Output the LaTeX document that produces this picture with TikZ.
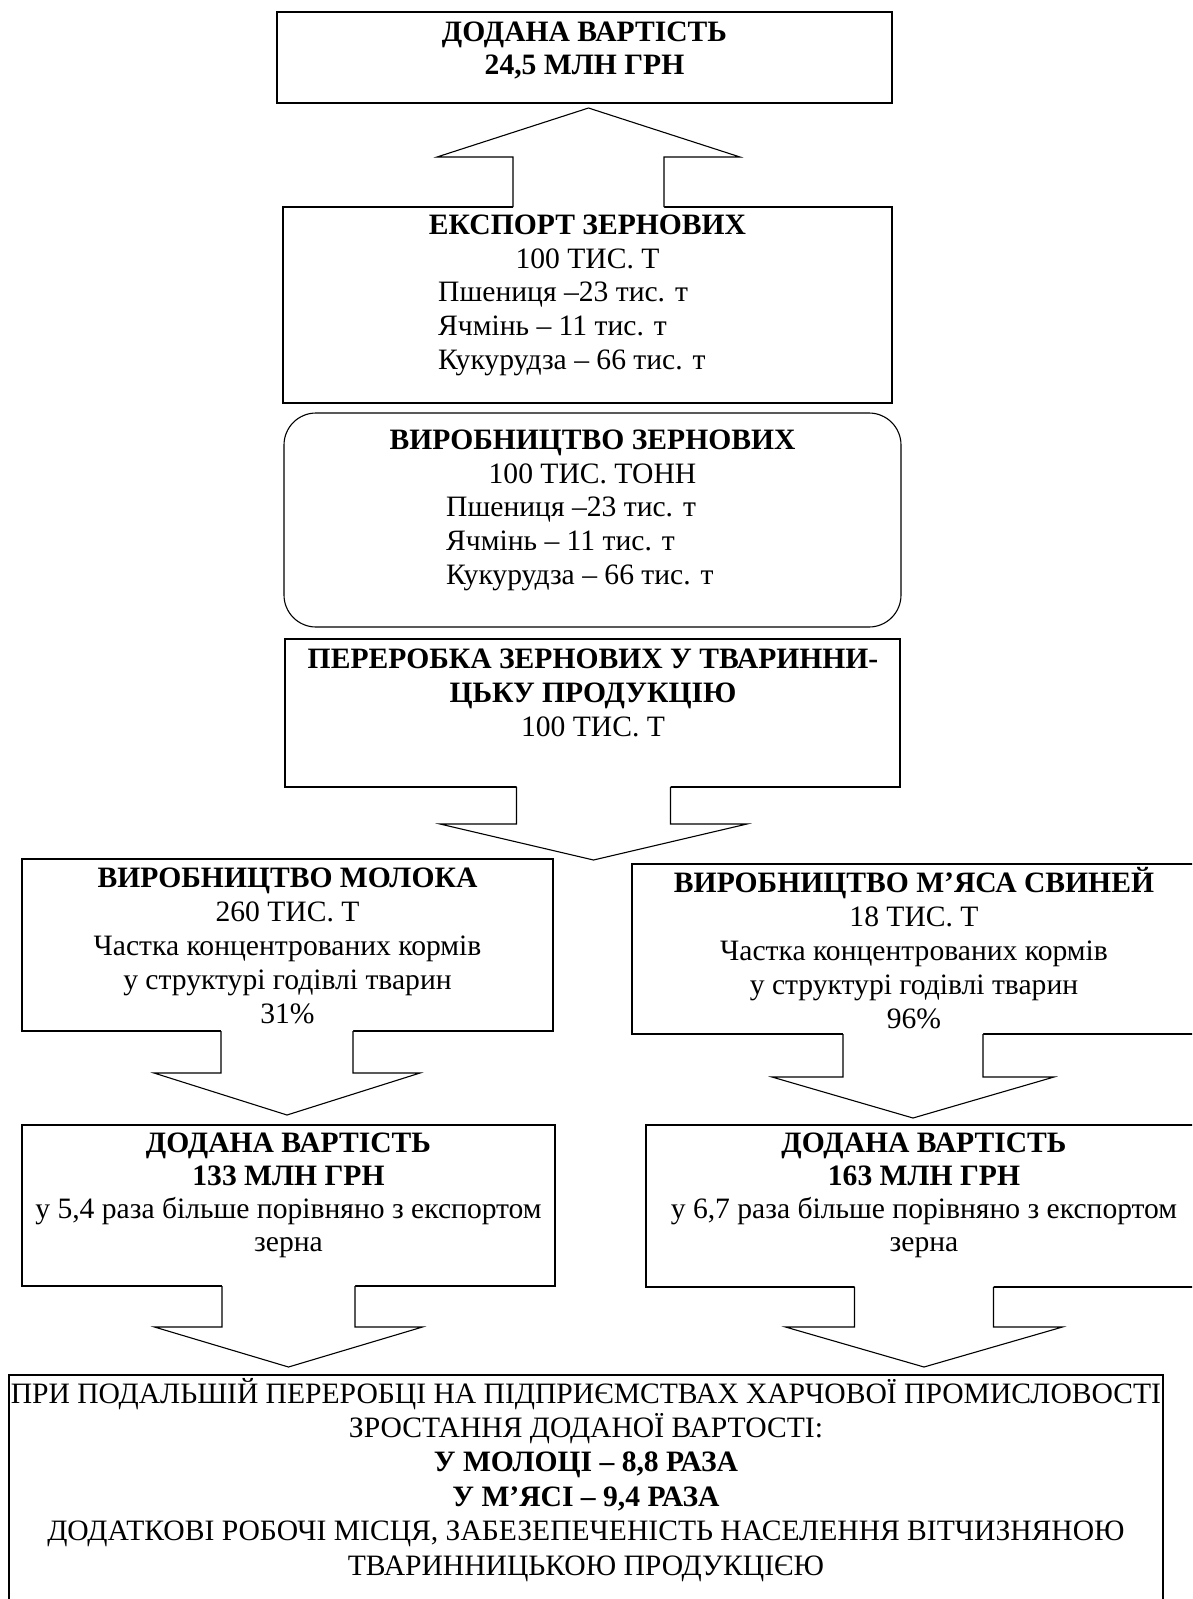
\documentclass[tikz,border=0pt]{standalone}
\usepackage{fontspec}
\setmainfont{Liberation Serif}
\usetikzlibrary{calc}

% block arrow fused to a box: #1 box side, #2 tip, #3 half shaft, #4 half head, #5 head length
\newcommand{\blockarrow}[5]{%
  \coordinate (ba-b) at (#1 -| #2);
  \coordinate (ba-e) at ($(ba-b)!-2pt!(#2)$);
  \coordinate (ba-h) at ($(#2)!#5pt!(ba-b)$);
  \fill[white] ($(ba-e)!#3pt!90:(#2)$) -- ($(ba-h)!#3pt!90:(#2)$) -- ($(ba-h)!#4pt!90:(#2)$) -- (#2) -- ($(ba-h)!#4pt!-90:(#2)$) -- ($(ba-h)!#3pt!-90:(#2)$) -- ($(ba-e)!#3pt!-90:(#2)$) -- cycle;
  \draw[fatline] ($(ba-b)!#3pt!90:(#2)$) -- ($(ba-h)!#3pt!90:(#2)$) -- ($(ba-h)!#4pt!90:(#2)$) -- (#2) -- ($(ba-h)!#4pt!-90:(#2)$) -- ($(ba-h)!#3pt!-90:(#2)$) -- ($(ba-b)!#3pt!-90:(#2)$);
}

\begin{document}
\begin{tikzpicture}[x=1pt,y=1pt,yscale=-1,xscale=1,
  font=\fontsize{29.6}{34}\selectfont,
  box/.style={draw, line width=1.1pt, inner sep=0pt, outer sep=0pt, anchor=north west},
  boxtext/.style={inner sep=0pt, align=center, anchor=base},
  croplist/.style={inner sep=0pt, align=left, anchor=base west},
  fatline/.style={line width=1.1pt, line join=miter}]
\useasboundingbox (0,0) rectangle (1192,1599);
\clip (0,0) rectangle (1192,1599);

%Shape: Rectangle [top value]
\node[box, minimum width=615pt, minimum height=91pt] (topval) at (277,12) {};
%Shape: Rectangle [export]
\node[box, minimum width=609pt, minimum height=196pt] (export) at (283,207) {};
%Shape: Rounded Rectangle [grain]
\node[box, rounded corners=32pt, minimum width=617pt, minimum height=214pt] (grain) at (284,413) {};
%Shape: Rectangle [processing]
\node[box, minimum width=615pt, minimum height=148pt] (proc) at (285,639) {};
%Shape: Rectangle [milk]
\node[box, minimum width=531pt, minimum height=172pt] (milk) at (22,859) {};
%Shape: Rectangle [meat]
\node[box, minimum width=564pt, minimum height=170pt] (meat) at (632,864) {};
%Shape: Rectangle [milk value]
\node[box, minimum width=533pt, minimum height=161pt] (valmilk) at (22,1125) {};
%Shape: Rectangle [meat value]
\node[box, minimum width=556pt, minimum height=162pt] (valmeat) at (646,1125) {};
%Shape: Rectangle [food industry]
\node[box, minimum width=1154pt, minimum height=230pt] (food) at (9,1375) {};

%Block Arrows
\coordinate (up-tip) at (588.5,108);
\blockarrow{export.north}{up-tip}{75.5}{151.5}{49}
\coordinate (proc-tip) at (593.5,860);
\blockarrow{proc.south}{proc-tip}{77}{153.5}{36}
\coordinate (milk-tip) at (287,1115);
\blockarrow{milk.south}{milk-tip}{66}{133}{42}
\coordinate (meat-tip) at (913,1118);
\blockarrow{meat.south}{meat-tip}{70}{141}{41}
\coordinate (valmilk-tip) at (288.5,1367);
\blockarrow{valmilk.south}{valmilk-tip}{66.5}{134}{40}
\coordinate (valmeat-tip) at (924,1367);
\blockarrow{valmeat.south}{valmeat-tip}{69.5}{138.5}{40}

% Text Node
\node[boxtext, font=\fontsize{29.6}{33}\selectfont\bfseries] (topval-txt) at (584.5,74) {ДОДАНА ВАРТІСТЬ\\24,5 МЛН ГРН};
% Text Node
\node[boxtext] (export-txt) at (587.5,268) {\textbf{ЕКСПОРТ ЗЕРНОВИХ}\\100 ТИС. Т};
% Text Node
\node[croplist] (export-list) at (438,369) {Пшениця –23 тис. т\\Ячмінь – 11 тис. т\\Кукурудза – 66 тис. т};
% Text Node
\node[boxtext] (grain-txt) at (592.5,483) {\textbf{ВИРОБНИЦТВО ЗЕРНОВИХ}\\100 ТИС. ТОНН};
% Text Node
\node[croplist] (grain-list) at (446,584) {Пшениця –23 тис. т\\Ячмінь – 11 тис. т\\Кукурудза – 66 тис. т};
% Text Node
\node[boxtext] (proc-txt) at (593,736) {\textbf{ПЕРЕРОБКА ЗЕРНОВИХ У ТВАРИННИ-}\\\textbf{ЦЬКУ ПРОДУКЦІЮ}\\100 ТИС. Т};
% Text Node
\node[boxtext] (milk-txt) at (287.5,1023) {\textbf{ВИРОБНИЦТВО МОЛОКА}\\260 ТИС. Т\\Частка концентрованих кормів\\у структурі годівлі тварин\\31\%};
% Text Node
\node[boxtext] (meat-txt) at (914,1028) {\textbf{ВИРОБНИЦТВО М’ЯСА СВИНЕЙ}\\18 ТИС. Т\\Частка концентрованих кормів\\у структурі годівлі тварин\\96\%};
% Text Node
\node[boxtext, font=\fontsize{29.6}{32.7}\selectfont] (valmilk-txt) at (288.5,1251) {\textbf{ДОДАНА ВАРТІСТЬ}\\\textbf{133 МЛН ГРН}\\у 5,4 раза більше порівняно з експортом\\зерна};
% Text Node
\node[boxtext, font=\fontsize{29.6}{32.7}\selectfont] (valmeat-txt) at (924,1251) {\textbf{ДОДАНА ВАРТІСТЬ}\\\textbf{163 МЛН ГРН}\\у 6,7 раза більше порівняно з експортом\\зерна};
% Text Node
\node[boxtext, font=\fontsize{29.6}{34.4}\selectfont] (food-txt) at (586,1575) {ПРИ ПОДАЛЬШІЙ ПЕРЕРОБЦІ НА ПІДПРИЄМСТВАХ ХАРЧОВОЇ ПРОМИСЛОВОСТІ\\ЗРОСТАННЯ ДОДАНОЇ ВАРТОСТІ:\\\textbf{У МОЛОЦІ – 8,8 РАЗА}\\\textbf{У М’ЯСІ – 9,4 РАЗА}\\ДОДАТКОВІ РОБОЧІ МІСЦЯ, ЗАБЕЗЕПЕЧЕНІСТЬ НАСЕЛЕННЯ ВІТЧИЗНЯНОЮ\\ТВАРИННИЦЬКОЮ ПРОДУКЦІЄЮ};

\end{tikzpicture}
\end{document}
